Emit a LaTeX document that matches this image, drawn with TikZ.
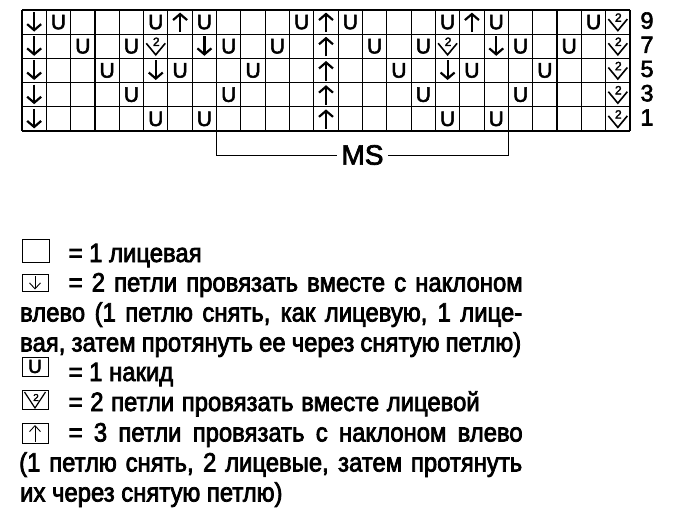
\documentclass[tikz,border=0pt]{standalone}
\usepackage{fontspec}
\setmainfont{Liberation Sans}[FakeBold=2.5]
\newfontfamily\legendfont{Liberation Sans}[FakeStretch=0.9, FakeBold=2.8]
\usetikzlibrary{arrows.meta}

\begin{document}
\begin{tikzpicture}[x=1pt, y=-1pt, font=\fontsize{24}{30}\selectfont]
    % Style
    \tikzset{
        gridline/.style={line width=1.1pt},
        boldarrow/.style={line width=2.2pt, -{Straight Barb[length=6pt, width=14pt, line width=2.2pt]}},
        thinarrow/.style={line width=0.9pt, -{Straight Barb[length=6pt, width=11pt]}},
        legendtext/.style={anchor=base west, inner sep=0pt, font=\legendfont\fontsize{26.5}{30}\selectfont},
        st-k/.pic={},
        st-u/.pic={\node[inner sep=0pt, font=\fontsize{21}{21}\selectfont] (-u) at (0,0) {U};},
        st-d/.pic={\draw[boldarrow] (0,-10) -- (0,9.5);},
        st-a/.pic={\draw[boldarrow] (0,10) -- (0,-9.5);},
        st-t/.pic={
            \draw[line width=1.6pt] (-9.5,-3) -- (0,8.5) -- (9.5,-3);
            \node[inner sep=0pt, font=\fontsize{12}{12}\selectfont] (-n) at (0.5,-4.5) {2};
        }
    }
    \useasboundingbox (0,0) rectangle (690,527);

    % Siatka
    \def\cw{24.32} \def\ch{24.2}
    \foreach \c in {0,...,25}
        \draw[gridline] (22+\c*\cw,10) -- (22+\c*\cw,131);
    \foreach \r in {0,...,5}
        \draw[gridline] (22,10+\r*\ch) -- (630,10+\r*\ch);

    % Wzor
    \foreach \syms/\num [count=\r] in {
        {d,u,k,k,k,u,a,u,k,k,k,u,a,u,k,k,k,u,a,u,k,k,k,u,t}/9,
        {d,k,u,k,u,t,k,d,u,k,u,k,a,k,u,k,u,t,k,d,u,k,u,k,t}/7,
        {d,k,k,u,k,d,u,k,k,u,k,k,a,k,k,u,k,d,u,k,k,u,k,k,t}/5,
        {d,k,k,k,u,k,k,k,u,k,k,k,a,k,k,k,u,k,k,k,u,k,k,k,t}/3,
        {d,k,k,k,k,u,k,u,k,k,k,k,a,k,k,k,k,u,k,u,k,k,k,k,t}/1} {
        \node[inner sep=0pt, font=\fontsize{23.5}{23.5}\selectfont] (row\num) at (647, 8.5+\r*\ch-0.5*\ch) {\num};
        \foreach \s [count=\c] in \syms
            \pic (c\r-\c) at (22+\c*\cw-0.5*\cw, 10+\r*\ch-0.5*\ch) {st-\s};
    }

    % Raport
    \coordinate (msL) at (22+8*\cw,131);
    \coordinate (msR) at (22+20*\cw,131);
    \node[inner sep=4pt, font=\fontsize{28}{28}\selectfont] (ms) at (362.5,155) {MS};
    \draw[line width=1pt] (msL) |- (ms.west);
    \draw[line width=1pt] (msR) |- (ms.east);

    % Legenda
    \draw[line width=1pt] (22,239) rectangle (49,262);
    \draw[line width=1pt] (22,274) rectangle (48,291);
    \draw[line width=1pt] (22,357) rectangle (48,376);
    \draw[line width=1pt] (22,390) rectangle (48,409);
    \draw[line width=1pt] (22,423) rectangle (48,443);
    \draw[thinarrow] (35,276) -- (35,289.5);
    \node[inner sep=0pt, font=\fontsize{19}{19}\selectfont] (legU) at (35,366.5) {U};
    \draw[line width=1.2pt] (24.5,392) -- (35,408) -- (45.5,392);
    \node[inner sep=0pt, font=\fontsize{10}{10}\selectfont] (legTwo) at (36,397.5) {2};
    \draw[thinarrow] (35,441.5) -- (35,425);

    \node[legendtext] (t1) at (68.5,262) {= 1 лицевая};
    \node[legendtext] (t2) at (68.5,291.5) {\makebox[454pt][s]{= 2 петли провязать вместе с наклоном}};
    \node[legendtext] (t3) at (20,321.5) {\makebox[502pt][s]{влево (1 петлю снять, как лицевую, 1 лице-}};
    \node[legendtext] (t4) at (20,351.5) {\makebox[501pt][s]{вая, затем протянуть ее через снятую петлю)}};
    \node[legendtext] (t5) at (68.5,381) {= 1 накид};
    \node[legendtext] (t6) at (68.5,411) {\makebox[411pt][s]{= 2 петли провязать вместе лицевой}};
    \node[legendtext] (t7) at (68.5,441.5) {\makebox[454pt][s]{= 3 петли провязать с наклоном влево}};
    \node[legendtext] (t8) at (19,471.5) {\makebox[503pt][s]{(1 петлю снять, 2 лицевые, затем протянуть}};
    \node[legendtext] (t9) at (20,501.5) {их через снятую петлю)};
\end{tikzpicture}
\end{document}
